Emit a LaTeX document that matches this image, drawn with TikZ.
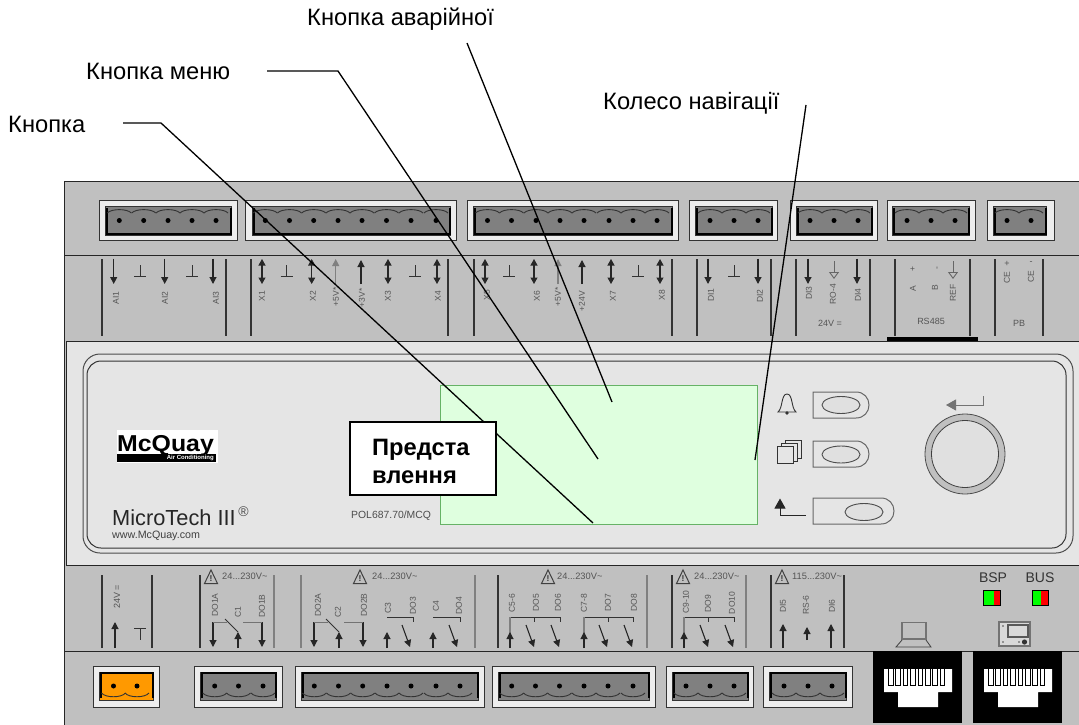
\documentclass[tikz,border=0pt]{standalone}
\usepackage{fontspec}
\setmainfont{Liberation Sans}
\usetikzlibrary{arrows.meta}
\definecolor{bodygray}{HTML}{C0C0C0}
\definecolor{panelgray}{HTML}{E5E5E5}
\definecolor{plug}{HTML}{808080}
\definecolor{scr}{HTML}{DFFFDF}
\definecolor{tiny}{HTML}{555555}
\definecolor{orng}{HTML}{FF9900}
\tikzset{
  edgeline/.style={draw=black!85,line width=1pt},
  connout/.style={draw=black!80,line width=1pt,fill=black!7},
  connin/.style={draw=black!80,line width=1pt,fill=plug},
  scal/.style={draw=black!80,line width=.9pt},
  arw/.style={black!85,line width=1.1pt,-{Triangle[length=7pt,width=7pt]}},
  garw/.style={black!50,line width=1.1pt,-{Triangle[length=7pt,width=7pt]}},
  darw/.style={black!85,line width=1.1pt,{Triangle[length=6.5pt,width=7pt]}-{Triangle[length=6.5pt,width=7pt]}},
  harw/.style={black!60,line width=.9pt,-{Triangle[open,length=7pt,width=10pt]}},
  sep/.style={draw=black!80,line width=1.1pt},
  gsep/.style={draw=black!50,line width=1.1pt},
  thin/.style={draw=black!80,line width=1pt},
  leader/.style={draw=black,line width=1.3pt},
  caption/.style={font=\fontsize{23.7}{26}\selectfont,inner sep=0pt,anchor=base west},
  rlab/.style={font=\fontsize{8.5}{8.5}\selectfont,text=tiny,rotate=90,inner sep=0pt},
  hlab/.style={font=\fontsize{9}{9}\selectfont,text=tiny,inner sep=0pt},
  warnlab/.style={font=\fontsize{9.3}{9.3}\selectfont,text=tiny,inner sep=0pt,anchor=west},
  ledlab/.style={font=\fontsize{14}{14}\selectfont,text=black!80,inner sep=0pt},
  panelbtn/.style={draw=black!60,line width=1pt},
  btnoval/.style={draw=black!70,line width=.9pt,fill=black!12},
  boxtext/.style={font=\bfseries\fontsize{23.7}{26}\selectfont,inner sep=0pt,anchor=base west},
}
\newcommand{\topconn}[5]{%
  \draw[connout] (#1,200) rectangle (#2,240);
  \draw[connin] (#3,206) rectangle (#4,235);
  \draw[black,line width=1.6pt] (#3+2,208) -- (#3+2,233.8) -- (#4,233.8) -- (#4,208);
  \foreach \d in {#5}{
    \draw[scal] (\d-12,213) .. controls (\d-8,208.5) and (\d+8,208.5) .. (\d+12,213);
    \fill[black] (\d,220.5) circle[radius=2.5];
  }}
\newcommand{\botconn}[6][plug]{%
  \draw[connout] (#2,666) rectangle (#3,707);
  \draw[connin,fill=#1] (#4,672) rectangle (#5,700);
  \draw[black,line width=1.6pt] (#4+2,698) -- (#4+2,673.2) -- (#5,673.2) -- (#5,698);
  \foreach \d in {#6}{
    \draw[scal] (\d-12,693) .. controls (\d-8,698) and (\d+8,698) .. (\d+12,693);
    \fill[black] (\d,686) circle[radius=2.5];
  }}
\newcommand{\warnsym}[5]{%
  \draw[draw=black!75,line width=1pt,fill=bodygray] (#1-6.5,583.5) -- (#1,570) -- (#1+6.5,583.5) -- cycle;
  \node[font=\bfseries\fontsize{8.5}{8.5}\selectfont,text=black!80,inner sep=0pt] (#3) at (#1,578.5) {!};
  \node[warnlab] (#4) at (#2,576.5) {#5};}
\newcommand{\rjack}[1]{%
  \fill[black] (#1,651) rectangle (#1+89,723);
  \fill[white] (#1+11,669) -- (#1+79,669) -- (#1+79,692) -- (#1+65,692) -- (#1+65,707) -- (#1+25,707) -- (#1+25,692) -- (#1+11,692) -- cycle;
  \foreach \k in {0,...,7}{
    \draw[black,line width=1pt,fill=white] (#1+15.5+\k*7.4,668.5) rectangle (#1+20+\k*7.4,685);
  }}
\begin{document}
\begin{tikzpicture}[x=1pt,y=-1pt]
\useasboundingbox (0,0) rectangle (1079,725);
\fill[white] (0,0) rectangle (1079,725);

% device body
\draw[edgeline,fill=bodygray] (64,181) rectangle (1081,727);
\draw[edgeline] (64,255) -- (1081,255);
\draw[edgeline] (64,651.5) -- (1081,651.5);

% top connectors
\topconn{99}{237}{105}{231}{119.3,143.7,168,192,216}
\topconn{245}{456}{252}{450}{265.3,289.5,313.7,338,362,386.5,411,436}
\topconn{467}{678}{473}{672}{487.5,511.5,536,560,584,609,633,657}
\topconn{689}{777}{695}{772}{710,734,758}
\topconn{790}{877}{796}{872}{810,834,858}
\topconn{887}{975}{892}{969}{907,931,955}
\topconn{987}{1054}{993}{1046}{1007,1031}

% upper terminal row: separators
\foreach \x in {102,226,251,448,474,672,697,771,796,870,895,970,995,1043}
  \draw[sep] (\x,259) -- (\x,336);
\fill[black] (887,337) rectangle (978,341);

% upper terminal row: arrows
\foreach \x in {113.7,164.7,213,708,758,808,857}
  \draw[arw] (\x,258.5) -- (\x,284);
\foreach \x in {262,311.7,388,437,485,534,611,660}
  \draw[darw] (\x,259) -- (\x,284);
\draw[garw] (335.7,284) -- (335.7,259);
\draw[arw] (361,284) -- (361,260);
\draw[garw] (558,284) -- (558,259);
\draw[arw] (582,284) -- (582,260);
\draw[harw] (834,261) -- (834,279);
\draw[harw] (953,261) -- (953,279);
% ground symbols, upper row
\foreach \x in {140,192,286.7,415,509,638,734}{
  \draw[thin] (\x,265) -- (\x,276);
  \draw[thin] (\x-6,276) -- (\x+6,276);
}

% upper terminal labels
\node[rlab] (ai1) at (116,298) {AI1};
\node[rlab] (ai2) at (165,298) {AI2};
\node[rlab] (ai3) at (216,298) {AI3};
\node[rlab] (x1) at (262,296) {X1};
\node[rlab] (x2) at (313,296) {X2};
\node[rlab] (p5a) at (336,297) {+5V*};
\node[rlab] (gnd) at (362,298) {+3V*};
\node[rlab] (x3) at (388,296) {X3};
\node[rlab] (x4) at (438,296) {X4};
\node[rlab] (x5) at (487,295) {X5};
\node[rlab] (x6) at (537,296) {X6};
\node[rlab] (p5b) at (558,297) {+5V*};
\node[rlab] (p24) at (582,301) {+24V};
\node[rlab] (x7) at (613,296) {X7};
\node[rlab] (x8) at (662,295) {X8};
\node[rlab] (di1) at (711,295) {DI1};
\node[rlab] (di2) at (760,296) {DI2};
\node[rlab] (di3) at (809,293) {DI3};
\node[rlab] (ro4) at (833,294) {RO-4};
\node[rlab] (di4) at (858,295) {DI4};
\node[hlab] (v24) at (830,323) {24V =};
\node[rlab] (rsplus) at (913,269) {+};
\node[rlab] (rsa) at (913,289) {A};
\node[rlab] (rsminus) at (938,268) {-};
\node[rlab] (rsb) at (935,288) {B};
\node[rlab] (rsref) at (953,293) {REF};
\node[hlab] (rs485) at (931,321) {RS485};
\node[rlab] (ceplus) at (1007,278) {CE};
\node[hlab] (ceplussign) at (1007,264) {+};
\node[rlab] (ceminus) at (1031,277) {CE};
\node[hlab] (ceminussign) at (1031,263) {-};
\node[hlab] (pb) at (1019,323) {PB};

% front panel
\draw[edgeline,fill=panelgray] (66,341) rectangle (1081,565);
\draw[draw=black!70,line width=1pt,rounded corners=17pt] (83,354) rectangle (1073,553);
\draw[draw=black!80,line width=1pt,rounded corners=14pt] (87,361) rectangle (1066,548);

% screen
\draw[draw=black!50!green!60,line width=1pt,fill=scr] (440,385) rectangle (757,524);

% logo
\fill[white] (117,430) rectangle (218,463);
\node[font=\bfseries\fontsize{23}{23}\selectfont,inner sep=0pt,anchor=base west] (mcq) at (117,451) {\scalebox{1.08}[1]{McQuay}};
\fill[black] (117,454) rectangle (216,462);
\node[font=\bfseries\fontsize{6}{6}\selectfont,text=white,inner sep=0pt,anchor=east] (airc) at (214,458) {Air Conditioning};
\node[font=\fontsize{21.8}{22}\selectfont,text=black!85,inner sep=0pt,anchor=base west] (mt) at (112,525) {MicroTech III};
\node[font=\fontsize{14}{14}\selectfont,text=black!70,inner sep=0pt] (reg) at (243.5,512) {®};
\node[font=\fontsize{10.7}{11}\selectfont,text=black!75,inner sep=0pt,anchor=west] (www) at (112,536) {www.McQuay.com};
\node[font=\fontsize{10.4}{11}\selectfont,text=black!70,inner sep=0pt,anchor=west] (pol) at (351,516) {POL687.70/MCQ};

% icons and buttons
\draw[black!80,line width=.9pt,fill=panelgray] (778,412) .. controls (783,408) and (781,394) .. (787,394) .. controls (793,394) and (791,408) .. (796,412) -- cycle;
\fill[black!80] (787,413) circle[radius=1.8];
\draw[black!80,line width=.9pt,fill=panelgray] (785,440) rectangle (801,458);
\draw[black!80,line width=.9pt,fill=panelgray] (781,443) rectangle (797,461);
\draw[black!80,line width=.9pt,fill=panelgray] (777,446.5) rectangle (793,463);
\draw[panelbtn] (813,392) -- (856,392) .. controls (864,392) and (869,398) .. (869,405) .. controls (869,412) and (864,418) .. (856,418) -- (813,418) -- cycle;
\draw[btnoval] (841,405) ellipse[x radius=19,y radius=8.5];
\draw[panelbtn] (813,441) -- (856,441) .. controls (864,441) and (869,447) .. (869,454) .. controls (869,461) and (864,467) .. (856,467) -- (813,467) -- cycle;
\draw[btnoval] (841,454.5) ellipse[x radius=19,y radius=8.5];
\draw[panelbtn] (813,498) -- (881,498) .. controls (889,498) and (894,504) .. (894,511) .. controls (894,518) and (889,524) .. (881,524) -- (813,524) -- cycle;
\draw[btnoval] (864,512) ellipse[x radius=19,y radius=8.5];
\draw[black!85,line width=1pt,-{Triangle[length=10pt,width=11pt]}] (805.5,515) -- (780,515) -- (780,498.5);
\draw[black!55,line width=1pt,-{Triangle[length=10pt,width=11pt]}] (983.5,396) -- (983.5,405) -- (946,405);
% knob
\draw[draw=black!70,line width=.8pt,fill=bodygray] (965,454) circle[radius=40];
\draw[draw=black!75,line width=.8pt,fill=black!12] (965,454) circle[radius=33.5];

% lower terminal row: separators
\foreach \x in {102,152,200,498,672,771,844}
  \draw[sep] (\x,575) -- (\x,648);
\foreach \x in {274,301,475,647,746}
  \draw[gsep] (\x,575) -- (\x,648);

% warnings
\warnsym{211}{222}{w1}{wt1}{24...230V\textasciitilde}
\warnsym{360}{372}{w2}{wt2}{24...230V\textasciitilde}
\warnsym{548}{557}{w3}{wt3}{24...230V\textasciitilde}
\warnsym{683}{694}{w4}{wt4}{24...230V\textasciitilde}
\warnsym{782}{792}{w5}{wt5}{115...230V\textasciitilde}

% 24V supply
\draw[arw] (115,648) -- (115,622);
\draw[thin] (140,628) -- (140,640);
\draw[thin] (134,628) -- (146,628);
\node[rlab,font=\fontsize{9}{9}\selectfont] (v24b) at (117,597) {24V =};

% change-over contacts
\foreach \a/\b/\c in {213/238/262,314/339/363}{
  \draw[arw] (\a,622) -- (\a,647);
  \draw[arw] (\b,648) -- (\b,632);
  \draw[arw] (\c,622) -- (\c,647);
  \draw[black!55,line width=1pt] (\a,622) -- (\a+14,622);
  \draw[black!80,line width=.9pt] (\a+12,619) -- (\b,632);
  \draw[black!55,line width=1pt] (\b+5,622) -- (\c,622);
}
% single contacts: common, outputs
\foreach \c/\o in {387/410,433/457}{
  \draw[thin] (\c,617) -- (\o+3,617);
  \draw[thin] (\o+3,617) -- (\o+3,622);
  \draw[arw] (\c,648) -- (\c,632);
  \draw[arw] (\o-8,625) -- (\o,647);
}
\foreach \c/\r in {510/559,584/632,684/733}{
  \draw[thin] (\c,617) -- (\r+1,617);
  \draw[thin] (\r+1,617) -- (\r+1,622);
  \draw[thin] (\c+24,617) -- (\c+24,622);
  \draw[gsep] (\c,617) -- (\c,648);
  \draw[arw] (\c,648) -- (\c,632);
}
\foreach \o in {534,559,607,632,708,733}
  \draw[arw] (\o-8,625) -- (\o,647);
\draw[arw] (783,648) -- (783,624);
\draw[arw] (807,640) -- (807,627);
\draw[arw] (831,648) -- (831,624);

% lower labels
\node[rlab] (do1a) at (215,605) {DO1A};
\node[rlab] (c1) at (238,612) {C1};
\node[rlab] (do1b) at (262,606) {DO1B};
\node[rlab] (do2a) at (318,605) {DO2A};
\node[rlab] (c2) at (338,612) {C2};
\node[rlab] (do2b) at (364,605) {DO2B};
\node[rlab] (c3) at (388,608) {C3};
\node[rlab] (do3) at (413,606) {DO3};
\node[rlab] (c4) at (436,606) {C4};
\node[rlab] (do4) at (459,606) {DO4};
\node[rlab] (c56) at (512,603) {C5-6};
\node[rlab] (do5) at (536,603) {DO5};
\node[rlab] (do6) at (558,603) {DO6};
\node[rlab] (c78) at (584,603) {C7-8};
\node[rlab] (do7) at (608,603) {DO7};
\node[rlab] (do8) at (634,603) {DO8};
\node[rlab] (c910) at (686,602) {C9-10};
\node[rlab] (do9) at (708,604) {DO9};
\node[rlab] (do10) at (732,603) {DO10};
\node[rlab] (di5) at (783,606) {DI5};
\node[rlab] (rs6) at (806,605) {RS-6};
\node[rlab] (di6) at (832,606) {DI6};

% lower connectors
\botconn[orng]{93}{159}{99}{153}{113.5,137}
\botconn{194}{282}{200}{276}{214.7,238.5,263}
\botconn{295}{484}{301}{478}{314.3,338.5,362.7,387,411,436,460}
\botconn{492}{655}{498}{649}{511.7,535.5,559.5,584,608,633}
\botconn{666}{753}{672}{748}{686,710,734}
\botconn{763}{852}{769}{846}{784,808,832}

% RJ45
\rjack{873}
\rjack{973}

% laptop
\draw[black!55,line width=1.6pt,fill=bodygray] (902,622.5) rectangle (926,639);
\draw[black!75,line width=.8pt] (902,640) -- (896,647) -- (931,647) -- (926,640);

% terminal icon
\draw[draw=black!55,line width=1.2pt,fill=black!15] (999,622) rectangle (1030,646);
\draw[draw=black!65,line width=1.2pt] (1008,625) rectangle (1028,637);
\fill[black!80] (1024.5,642) circle[radius=2.6];
\fill[black!70] (1003,626) circle[radius=.8];
\fill[black!70] (1003,642) circle[radius=.8];
\fill[black!70] (1019,642) circle[radius=.8];

% LEDs
\node[ledlab] (bsp) at (993,578) {BSP};
\node[ledlab] (bus) at (1040,578) {BUS};
\fill[green] (983,590) rectangle (994,605);
\fill[red] (994,590) rectangle (1000,605);
\draw[draw=black,line width=1pt] (983,590) rectangle (1000,605);
\fill[green] (1032,590) rectangle (1041,605);
\fill[red] (1041,590) rectangle (1048,605);
\draw[draw=black,line width=1pt] (1032,590) rectangle (1048,605);

% captions
\node[caption] (capa) at (307,26) {Кнопка аварійної};
\node[caption] (capb) at (86,80) {Кнопка меню};
\node[caption] (capc) at (8,132) {Кнопка};
\node[caption] (capd) at (603,109) {Колесо навігації};

% leaders
\coordinate (la1) at (467,43);
\coordinate (la2) at (612,402);
\draw[leader] (la1) -- (la2);
\coordinate (lb1) at (267,71);
\coordinate (lb2) at (338,71);
\coordinate (lb3) at (598,459);
\draw[leader] (lb1) -- (lb2) -- (lb3);
\coordinate (lc1) at (123,123);
\coordinate (lc2) at (161,123);
\coordinate (lc3) at (593,523);
\draw[leader] (lc1) -- (lc2) -- (lc3);
\coordinate (ld1) at (806,105);
\coordinate (ld2) at (755,460);
\draw[leader] (ld1) -- (ld2);

% display label box
\node[draw=black,line width=1.1pt,fill=white,minimum width=146pt,minimum height=73pt,inner sep=0pt] (dispbox) at (423,458.5) {};
\node[boxtext] (disp1) at (372,455) {Предста};
\node[boxtext] (disp2) at (372,483) {влення};
\end{tikzpicture}
\end{document}
